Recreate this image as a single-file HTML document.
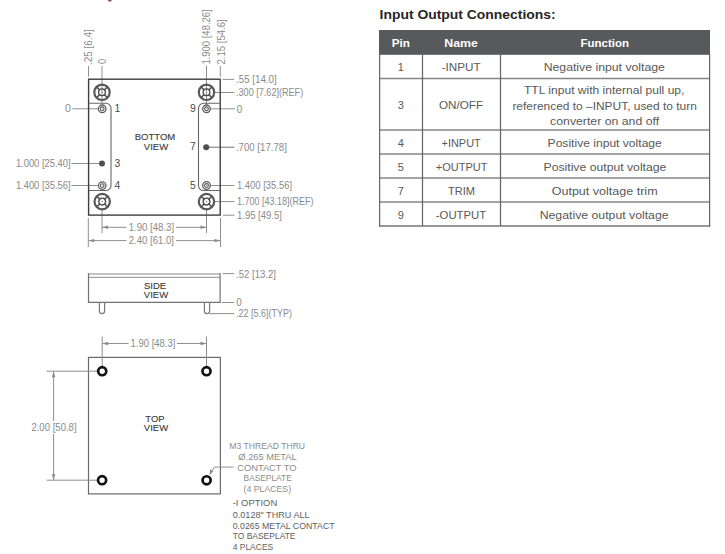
<!DOCTYPE html>
<html>
<head>
<meta charset="utf-8">
<style>
html,body{margin:0;padding:0;background:#fff;width:725px;height:554px;overflow:hidden;}
svg{position:absolute;left:0;top:0;display:block;}
text{font-family:"Liberation Sans",sans-serif;}
.d{font-size:10.2px;fill:#8a8a8a;}
.lb{font-size:10.3px;fill:#4a4a4a;}
.vw{font-size:9.5px;fill:#3a3a3a;stroke:#3a3a3a;stroke-width:0.12px;}
.ld{stroke:#8f8f8f;stroke-width:1;fill:none;}
.tc{font-size:11px;fill:#595959;}
.th{font-size:11.3px;font-weight:bold;fill:#fff;}
</style>
</head>
<body>
<svg width="725" height="554" viewBox="0 0 725 554">
<!-- ===== TABLE ===== -->
<text x="379.6" y="18.5" textLength="176" lengthAdjust="spacingAndGlyphs" style="font-size:12.8px;font-weight:bold;fill:#262626;">Input Output Connections:</text>
<rect x="379" y="30" width="331" height="24.8" fill="#58595b"/>
<text class="th" x="391.8" y="46.7" textLength="18.2" lengthAdjust="spacingAndGlyphs" text-anchor="start">Pin</text>
<text class="th" x="444.3" y="46.7" textLength="33.6" lengthAdjust="spacingAndGlyphs" text-anchor="start">Name</text>
<text class="th" x="580.5" y="46.7" textLength="48.6" lengthAdjust="spacingAndGlyphs" text-anchor="start">Function</text>
<g stroke="#868686" stroke-width="1.3" fill="none">
<line x1="379" y1="78.5" x2="709.5" y2="78.5"/>
<line x1="379" y1="130" x2="709.5" y2="130"/>
<line x1="379" y1="154" x2="709.5" y2="154"/>
<line x1="379" y1="178" x2="709.5" y2="178"/>
<line x1="379" y1="202" x2="709.5" y2="202"/>
<line x1="379" y1="226" x2="710.2" y2="226" stroke="#777"/>
</g>
<g stroke="#666" stroke-width="1.25" fill="none">
<line x1="379.6" y1="54" x2="379.6" y2="226.6"/>
<line x1="709.6" y1="54" x2="709.6" y2="226.6"/>
<line x1="422.5" y1="54" x2="422.5" y2="226"/>
<line x1="500.5" y1="54" x2="500.5" y2="226"/>
</g>
<g>
<text class="tc" x="400.7" y="70.6" text-anchor="middle">1</text>
<text class="tc" x="441.7" y="70.7" textLength="38.9" lengthAdjust="spacingAndGlyphs">-INPUT</text>
<text class="tc" x="543.7" y="71.2" textLength="121.2" lengthAdjust="spacingAndGlyphs">Negative input voltage</text>
<text class="tc" x="400.7" y="109.0" text-anchor="middle">3</text>
<text class="tc" x="439.0" y="109.0" textLength="44.1" lengthAdjust="spacingAndGlyphs">ON/OFF</text>
<text class="tc" x="524.0" y="94.3" textLength="160.4" lengthAdjust="spacingAndGlyphs">TTL input with internal pull up,</text>
<text class="tc" x="512.4" y="109.7" textLength="184.4" lengthAdjust="spacingAndGlyphs">referenced to –INPUT, used to turn</text>
<text class="tc" x="550.1" y="125.1" textLength="109.0" lengthAdjust="spacingAndGlyphs">converter on and off</text>
<text class="tc" x="400.7" y="146.8" text-anchor="middle">4</text>
<text class="tc" x="441.5" y="146.8" textLength="39.3" lengthAdjust="spacingAndGlyphs">+INPUT</text>
<text class="tc" x="547.6" y="147.0" textLength="114.2" lengthAdjust="spacingAndGlyphs">Positive input voltage</text>
<text class="tc" x="400.7" y="170.8" text-anchor="middle">5</text>
<text class="tc" x="435.8" y="170.8" textLength="51.6" lengthAdjust="spacingAndGlyphs">+OUTPUT</text>
<text class="tc" x="543.5" y="170.9" textLength="122.9" lengthAdjust="spacingAndGlyphs">Positive output voltage</text>
<text class="tc" x="400.7" y="194.8" text-anchor="middle">7</text>
<text class="tc" x="447.9" y="194.8" textLength="27.1" lengthAdjust="spacingAndGlyphs">TRIM</text>
<text class="tc" x="551.7" y="195.0" textLength="105.9" lengthAdjust="spacingAndGlyphs">Output voltage trim</text>
<text class="tc" x="400.7" y="218.8" text-anchor="middle">9</text>
<text class="tc" x="435.8" y="218.8" textLength="50.4" lengthAdjust="spacingAndGlyphs">-OUTPUT</text>
<text class="tc" x="539.7" y="218.9" textLength="128.9" lengthAdjust="spacingAndGlyphs">Negative output voltage</text>
</g>
<defs>
<g id="mt">
<circle r="7.7" fill="none" stroke="#585858" stroke-width="2.2"/>
<circle r="3.4" fill="none" stroke="#4a4a4a" stroke-width="1.3"/>
<g stroke="#505050" stroke-width="1.5">
<line x1="2.3" y1="2.3" x2="5.2" y2="5.2"/><line x1="-2.3" y1="2.3" x2="-5.2" y2="5.2"/>
<line x1="2.3" y1="-2.3" x2="5.2" y2="-5.2"/><line x1="-2.3" y1="-2.3" x2="-5.2" y2="-5.2"/>
</g>
<circle r="0.8" fill="#9a9a9a"/>
</g>
<g id="pn">
<circle r="3.8" fill="none" stroke="#606060" stroke-width="1.3"/>
<circle r="1.9" fill="none" stroke="#555" stroke-width="1.1"/>
<circle r="0.5" fill="#888"/>
</g>
<g id="hl">
<circle r="4.05" fill="none" stroke="#111" stroke-width="2.7"/>
</g>
</defs>

<!-- ===== BOTTOM VIEW ===== -->
<!-- leaders / extension lines -->
<g class="ld">
<!-- top vertical -->
<line x1="88.5" y1="66" x2="88.5" y2="76.8"/>
<line x1="102" y1="66" x2="102" y2="104.5"/>
<line x1="206.5" y1="66" x2="206.5" y2="104.5"/>
<line x1="220.3" y1="66" x2="220.3" y2="76.8"/>
<!-- left horizontal -->
<line x1="72.3" y1="108.8" x2="98" y2="108.8"/>
<line x1="71.4" y1="163.5" x2="99" y2="163.5"/>
<line x1="71.4" y1="185.5" x2="98" y2="185.5"/>
<!-- right horizontal -->
<line x1="222.6" y1="79.4" x2="234.3" y2="79.4"/>
<line x1="215" y1="92.5" x2="234.3" y2="92.5"/>
<line x1="210.5" y1="108.8" x2="235" y2="108.8"/>
<line x1="209" y1="147.2" x2="234.5" y2="147.2" stroke="#727272"/>
<line x1="210.5" y1="185.5" x2="234.5" y2="185.5"/>
<line x1="215" y1="201.6" x2="234.5" y2="201.6"/>
<line x1="223" y1="215.2" x2="234.5" y2="215.2"/>
<!-- bottom extension -->
<line x1="88.3" y1="218" x2="88.3" y2="247"/>
<line x1="220.5" y1="218" x2="220.5" y2="247"/>
<line x1="102" y1="210" x2="102" y2="233"/>
<line x1="206.5" y1="210" x2="206.5" y2="233"/>
<!-- dim lines -->
<line x1="102" y1="227.3" x2="126.5" y2="227.3"/>
<line x1="176" y1="227.3" x2="206.5" y2="227.3"/>
<line x1="88.3" y1="240.6" x2="126.5" y2="240.6"/>
<line x1="176" y1="240.6" x2="220.5" y2="240.6"/>
</g>
<g fill="#8a8a8a">
<polygon points="102,227.3 108,225.6 108,229"/>
<polygon points="206.5,227.3 200.5,225.6 200.5,229"/>
<polygon points="88.3,240.6 94.3,238.9 94.3,242.3"/>
<polygon points="220.5,240.6 214.5,238.9 214.5,242.3"/>
</g>

<!-- box -->
<rect x="88.6" y="79.2" width="131.6" height="135.9" fill="none" stroke="#3e3e3e" stroke-width="1.4"/>
<path d="M88.6,103.3 H106 A5,5 0 0 1 111,108.3 V185.5 A5,5 0 0 1 106,190.5 H88.6" fill="none" stroke="#666" stroke-width="1.1"/>
<path d="M220.2,103.3 H203.5 A5,5 0 0 0 198.5,108.3 V185.5 A5,5 0 0 0 203.5,190.5 H220.2" fill="none" stroke="#666" stroke-width="1.1"/>

<use href="#mt" x="102" y="92.3"/>
<use href="#mt" x="206.5" y="92.3"/>
<use href="#mt" x="102.2" y="201.6"/>
<use href="#mt" x="206.5" y="201.6"/>
<use href="#pn" x="102.2" y="108.8"/>
<use href="#pn" x="206.5" y="108.8"/>
<use href="#pn" x="102.2" y="185.6"/>
<use href="#pn" x="206.5" y="185.5"/>
<circle cx="102" cy="163.5" r="3" fill="#505050"/>
<circle cx="206.2" cy="147.2" r="3" fill="#505050"/>

<!-- pin labels -->
<g class="lb">
<text x="114.5" y="112.2">1</text>
<text x="114.5" y="166.8">3</text>
<text x="114.5" y="189">4</text>
<text x="190" y="112.2">9</text>
<text x="190" y="150">7</text>
<text x="190" y="189">5</text>
</g>
<text class="vw" x="155" y="140.4" text-anchor="middle">BOTTOM</text>
<text class="vw" x="156" y="149.5" text-anchor="middle">VIEW</text>

<!-- dimension texts -->
<g class="d">
<text x="65.1" y="111.9" textLength="5.9" lengthAdjust="spacingAndGlyphs">0</text>
<text x="15.9" y="167" textLength="54.7" lengthAdjust="spacingAndGlyphs">1.000 [25.40]</text>
<text x="15.9" y="188.7" textLength="54.7" lengthAdjust="spacingAndGlyphs">1.400 [35.56]</text>
<text x="236.0" y="82.8" textLength="40.7" lengthAdjust="spacingAndGlyphs">.55 [14.0]</text>
<text x="236.0" y="96.2" textLength="67.2" lengthAdjust="spacingAndGlyphs">.300 [7.62](REF)</text>
<text x="236.7" y="112.6" textLength="5.5" lengthAdjust="spacingAndGlyphs">0</text>
<text x="235.9" y="150.6" textLength="51.0" lengthAdjust="spacingAndGlyphs">.700 [17.78]</text>
<text x="237.0" y="188.8" textLength="55.0" lengthAdjust="spacingAndGlyphs">1.400 [35.56]</text>
<text x="237.0" y="205.3" textLength="76.5" lengthAdjust="spacingAndGlyphs">1.700 [43.18](REF)</text>
<text x="237.0" y="219.1" textLength="44.8" lengthAdjust="spacingAndGlyphs">1.95 [49.5]</text>
<text x="128.7" y="230.7" textLength="45.4" lengthAdjust="spacingAndGlyphs">1.90 [48.3]</text>
<text x="128.7" y="244" textLength="45.3" lengthAdjust="spacingAndGlyphs">2.40 [61.0]</text>
<text transform="translate(91.9,64.9) rotate(-90)" textLength="35.6" lengthAdjust="spacingAndGlyphs">.25 [6.4]</text>
<text transform="translate(106,63.9) rotate(-90)" textLength="5.2" lengthAdjust="spacingAndGlyphs">0</text>
<text transform="translate(210.4,64.6) rotate(-90)" textLength="55.3" lengthAdjust="spacingAndGlyphs">1.900 [48.26]</text>
<text transform="translate(225,64.6) rotate(-90)" textLength="45.4" lengthAdjust="spacingAndGlyphs">2.15 [54.6]</text>
</g>

<!-- ===== SIDE VIEW ===== -->
<g fill="none" stroke="#7a7a7a" stroke-width="1.2">
<line x1="88.5" y1="273.9" x2="220.1" y2="273.9" stroke="#b0b0b0" stroke-width="1.5"/>
<line x1="88.5" y1="277.4" x2="220.1" y2="277.4" stroke="#a4a4a4" stroke-width="1.3"/>
<path d="M88.5,273.3 V302.3 H220.1 V273.3" stroke="#727272"/>
<path d="M99.4,302.3 V311 A2.6,2.6 0 0 0 104.6,311 V302.3"/>
<path d="M204.4,302.3 V311 A2.6,2.6 0 0 0 209.6,311 V302.3"/>
</g>
<g class="ld">
<line x1="222.6" y1="273.6" x2="234" y2="273.6"/>
<line x1="222" y1="302.5" x2="234" y2="302.5"/>
<line x1="209.7" y1="313.6" x2="234" y2="313.6"/>
</g>
<text class="vw" x="155" y="289.2" text-anchor="middle">SIDE</text>
<text class="vw" x="156" y="298.2" text-anchor="middle">VIEW</text>
<g class="d">
<text x="236.0" y="278.1" textLength="40.0" lengthAdjust="spacingAndGlyphs">.52 [13.2]</text>
<text x="236.3" y="305.9" textLength="5.5" lengthAdjust="spacingAndGlyphs">0</text>
<text x="236.0" y="317.3" textLength="56.0" lengthAdjust="spacingAndGlyphs">.22 [5.6](TYP)</text>
</g>

<!-- ===== TOP VIEW ===== -->
<rect x="88.5" y="357.4" width="131.9" height="136.5" fill="none" stroke="#6a6a6a" stroke-width="1.2"/>
<g class="ld">
<line x1="102.2" y1="336.5" x2="102.2" y2="366"/>
<line x1="206.5" y1="336.5" x2="206.5" y2="366"/>
<line x1="102.2" y1="343.5" x2="128.5" y2="343.5"/>
<line x1="177" y1="343.5" x2="206.5" y2="343.5"/>
<line x1="46.6" y1="371.2" x2="97" y2="371.2"/>
<line x1="46.6" y1="480.2" x2="97" y2="480.2"/>
<line x1="53.6" y1="371.2" x2="53.6" y2="421"/>
<line x1="53.6" y1="434" x2="53.6" y2="480.2"/>
<path d="M210,474 L214.4,467.1 H233.3"/>
</g>
<g fill="#8a8a8a">
<polygon points="102.2,343.5 108.2,341.8 108.2,345.2"/>
<polygon points="206.5,343.5 200.5,341.8 200.5,345.2"/>
<polygon points="53.6,371.2 51.9,377.2 55.3,377.2"/>
<polygon points="53.6,480.2 51.9,474.2 55.3,474.2"/>
<polygon points="209.6,475.2 210.2,469.3 213.2,471.2"/>
</g>
<use href="#hl" x="102.2" y="371.2"/>
<use href="#hl" x="206.5" y="371.2"/>
<use href="#hl" x="102.1" y="480.2"/>
<use href="#hl" x="206.6" y="480.3"/>
<text class="vw" x="155" y="422" text-anchor="middle">TOP</text>
<text class="vw" x="156" y="430.6" text-anchor="middle">VIEW</text>
<g class="d">
<text x="130.6" y="347.1" textLength="44.7" lengthAdjust="spacingAndGlyphs">1.90 [48.3]</text>
<text x="31.4" y="430.9" textLength="45.2" lengthAdjust="spacingAndGlyphs">2.00 [50.8]</text>
</g>
<g style="font-size:9.4px;fill:#8c8c8c;">
<text x="229.3" y="449.1" textLength="75.8" lengthAdjust="spacingAndGlyphs">M3 THREAD THRU</text>
<text x="238.3" y="459.5" textLength="58.3" lengthAdjust="spacingAndGlyphs">&#216;.265 METAL</text>
<text x="237.2" y="470.5" textLength="59.4" lengthAdjust="spacingAndGlyphs">CONTACT TO</text>
<text x="243.6" y="480.8" textLength="48.1" lengthAdjust="spacingAndGlyphs">BASEPLATE</text>
<text x="243.6" y="492.4" textLength="47.5" lengthAdjust="spacingAndGlyphs">(4 PLACES)</text>
</g>
<g style="font-size:9.3px;fill:#606060;">
<text x="232.7" y="506.4" textLength="44.5" lengthAdjust="spacingAndGlyphs">-I OPTION</text>
<text x="232.7" y="517.6" textLength="76.9" lengthAdjust="spacingAndGlyphs">0.0128" THRU ALL</text>
<text x="232.7" y="528.6" textLength="102.0" lengthAdjust="spacingAndGlyphs">0.0265 METAL CONTACT</text>
<text x="232.7" y="539.4" textLength="62.8" lengthAdjust="spacingAndGlyphs">TO BASEPLATE</text>
<text x="232.7" y="550.2" textLength="40.5" lengthAdjust="spacingAndGlyphs">4 PLACES</text>
</g>
<circle cx="109.8" cy="-0.2" r="2" fill="#7a3545" opacity="0.85"/>

</svg>
</body>
</html>
